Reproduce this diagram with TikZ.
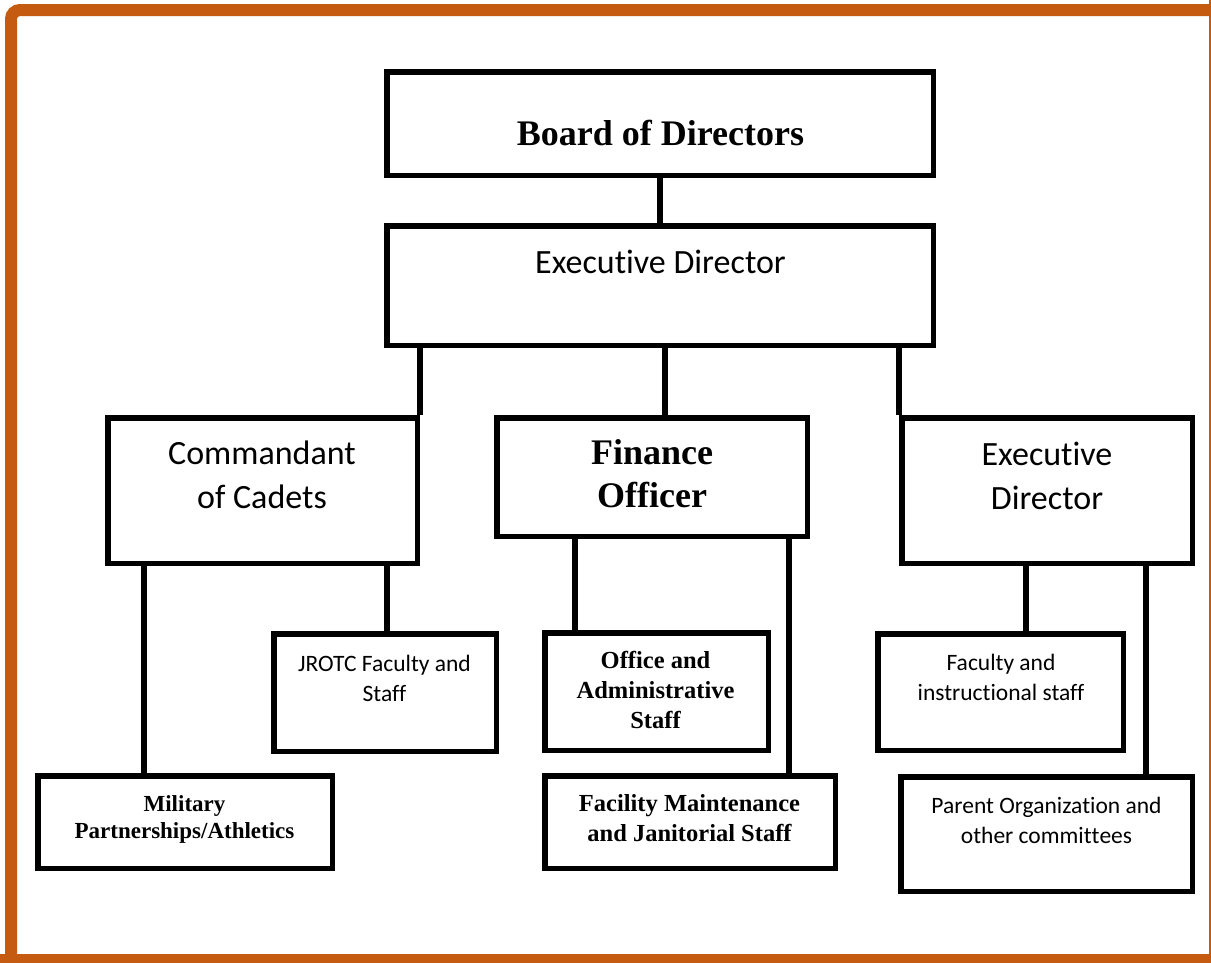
\documentclass[tikz,border=0pt]{standalone}
\usepackage{fontspec}
\setmainfont{Liberation Serif}
\newfontfamily\calib[Ligatures=NoCommon]{Carlito}
% zero kern that keeps letter pairs such as "ti" and "tt" apart
\newcommand\nolig{\kern0pt}
\definecolor{framecol}{HTML}{C55A11}
\begin{document}
\begin{tikzpicture}[x=1pt,y=-1pt,
  box/.style={draw=black, line width=5.5pt, rectangle, inner sep=0pt},
  link/.style={draw=black, line width=5.5pt},
  frameline/.style={draw=framecol, line width=12pt},
  sanslarge/.style={font=\calib\fontsize{34}{44}\selectfont, align=center, inner sep=0pt},
  sanssmall/.style={font=\calib\fontsize{23.5}{30}\selectfont, align=center, inner sep=0pt},
  seriflarge/.style={font=\bfseries\fontsize{36}{43}\selectfont, align=center, inner sep=0pt},
  serifsmall/.style={font=\bfseries\fontsize{24.5}{30}\selectfont, align=center, inner sep=0pt},
  seriftiny/.style={font=\bfseries\fontsize{23}{27}\selectfont, align=center, inner sep=0pt}]
\useasboundingbox (0,0) rectangle (1211,962);
\clip (0,0) rectangle (1211,962);
\fill[white] (0,0) rectangle (1211,962);

% orange page frame: rounded top-left corner, other sides run off the page
\draw[frameline] (11,980) [rounded corners=9pt] -- (11,10) [sharp corners] -- (1240,10);
\draw[frameline] (1215,0) -- (1215,980);
\draw[frameline] (0,960) -- (1240,960);

% boxes (outer edges minus half the stroke)
\node[box, minimum width=546.5, minimum height=103.5] (board) at (660,123.5) {};
\node[box, minimum width=546.5, minimum height=119.5] (exec) at (660,285.5) {};
\node[box, minimum width=309.5, minimum height=145.5] (cmd) at (262.5,490.5) {};
\node[box, minimum width=310.5, minimum height=118.5] (fin) at (652,477) {};
\node[box, minimum width=290.5, minimum height=145.5] (ed) at (1047,490.5) {};
\node[box, minimum width=222.5, minimum height=117.5] (jrotc) at (385,692.5) {};
\node[box, minimum width=294.5, minimum height=92.5] (mil) at (185,822) {};
\node[box, minimum width=223.5, minimum height=117.5] (office) at (656.5,691.5) {};
\node[box, minimum width=290.5, minimum height=92.5] (facil) at (690,822) {};
\node[box, minimum width=245.5, minimum height=116.5] (faculty) at (1000.5,692) {};
\node[box, minimum width=291.5, minimum height=114.5] (parent) at (1046.5,834) {};

% labels
\node[seriflarge] (boardT) at (660.5,133) {Board of Directors};
\node[sanslarge] (execT) at (660.5,262) {Execut\nolig ive Director};
\node[sanslarge] (cmdT) at (262,475) {Commandant\\of Cadets};
\node[seriflarge] (finT) at (652,473.5) {Finance\\Officer};
\node[sanslarge] (edT) at (1047,475.5) {Execut\nolig ive\\Director};
\node[sanssmall] (jrotcT) at (384.5,678) {JROTC Faculty and\\Staff};
\node[seriftiny] (milT) at (184.5,819.5) {Military\\Partnerships/Athletics};
\node[serifsmall] (officeT) at (655.5,690) {Office and\\Administrative\\Staff};
\node[serifsmall] (facilT) at (689.5,818) {Facility Maintenance\\and Janitorial Staff};
\node[sanssmall] (facultyT) at (1001,677) {Faculty and\\instruct\nolig ional staff};
\node[sanssmall] (parentT) at (1046.5,820.5) {Parent Organizat\nolig ion and\\other commit\nolig t\nolig ees};

% connectors
\draw[link] (board.south) -- (exec.north);
\draw[link] (cmd.north east) -- (cmd.north east |- exec.south);
\draw[link] ([xshift=13pt]fin.north) -- ([xshift=13pt]fin.north |- exec.south);
\draw[link] (ed.north west) -- (ed.north west |- exec.south);
\draw[link] ([xshift=-118.5pt]cmd.south) -- ([xshift=-118.5pt]cmd.south |- mil.north);
\draw[link] ([xshift=124.5pt]cmd.south) -- ([xshift=124.5pt]cmd.south |- jrotc.north);
\draw[link] ([xshift=-77pt]fin.south) -- ([xshift=-77pt]fin.south |- office.north);
\draw[link] ([xshift=137pt]fin.south) -- ([xshift=137pt]fin.south |- facil.north);
\draw[link] ([xshift=-21pt]ed.south) -- ([xshift=-21pt]ed.south |- faculty.north);
\draw[link] ([xshift=99pt]ed.south) -- ([xshift=99pt]ed.south |- parent.north);
\end{tikzpicture}
\end{document}
